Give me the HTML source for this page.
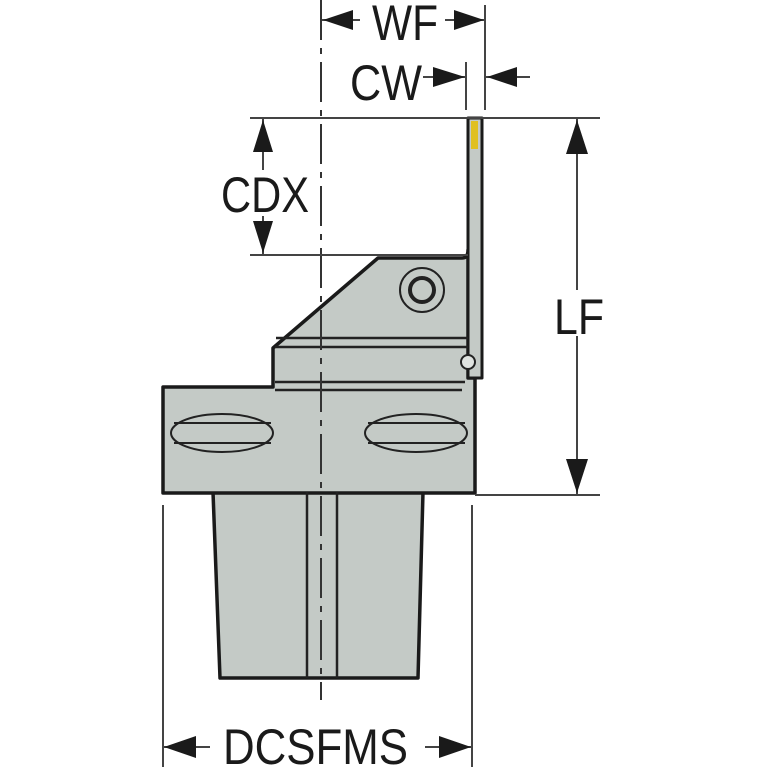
<!DOCTYPE html>
<html><head><style>html,body{margin:0;padding:0;background:#fff}svg{display:block}</style></head>
<body>
<svg width="767" height="767" viewBox="0 0 767 767" xmlns="http://www.w3.org/2000/svg">
<g fill="#c4cac6" stroke="#1a1a1a" stroke-width="3.5" stroke-linejoin="round">
<path d="M213,492 L423,492 L418,678 L220,678 Z"/>
<path d="M163,387 L273,387 L273,348 L378,258 L462,258 Q468,258 468,250 L468,378 L475,378 L475,493 L163,493 Z"/>
<path d="M468,118 L482,118 L482,378 L468,378 Z" stroke-width="3"/>
</g>
<g stroke="#222" fill="none">
<line x1="307" y1="492" x2="307" y2="678" stroke-width="2.5"/>
<line x1="337" y1="492" x2="337" y2="678" stroke-width="2.5"/>
<line x1="276" y1="338" x2="468" y2="338" stroke-width="2.5"/>
<line x1="275" y1="347" x2="468" y2="347" stroke-width="2.5"/>
<line x1="275" y1="382" x2="465" y2="382" stroke-width="2.5"/>
<line x1="275" y1="390" x2="462" y2="390" stroke-width="2.5"/>
<circle cx="422" cy="290" r="22" stroke-width="2"/>
<circle cx="422" cy="290" r="12" stroke-width="4"/>
<circle cx="468" cy="362" r="7" fill="#dfe3e0" stroke-width="2"/>
<ellipse cx="222" cy="433" rx="51" ry="19" stroke-width="2"/>
<line x1="174" y1="423" x2="271" y2="423" stroke-width="2"/>
<line x1="174" y1="443" x2="271" y2="443" stroke-width="2"/>
<ellipse cx="416" cy="433" rx="51" ry="19" stroke-width="2"/>
<line x1="368" y1="423" x2="465" y2="423" stroke-width="2"/>
<line x1="368" y1="443" x2="465" y2="443" stroke-width="2"/>
</g>
<rect x="471" y="121" width="7" height="28" fill="#e0c020"/>
<line x1="321" y1="0" x2="321" y2="700" stroke="#333" stroke-width="2" stroke-dasharray="40,8,6,8"/>
<g stroke="#444" stroke-width="2" fill="none">
<line x1="250" y1="118" x2="600" y2="118"/>
<line x1="250" y1="255" x2="468" y2="255"/>
<line x1="475" y1="495" x2="600" y2="495"/>
<line x1="485" y1="5" x2="485" y2="110"/>
<line x1="466" y1="62" x2="466" y2="110"/>
<line x1="163" y1="505" x2="163" y2="767"/>
<line x1="472" y1="505" x2="472" y2="767"/>
<line x1="577" y1="118" x2="577" y2="495"/>
<line x1="263" y1="118" x2="263" y2="255"/>
<line x1="322" y1="20" x2="360" y2="20"/>
<line x1="445" y1="20" x2="485" y2="20"/>
<line x1="423" y1="77" x2="466" y2="77"/>
<line x1="485" y1="77" x2="530" y2="77"/>
<line x1="163" y1="747" x2="210" y2="747"/>
<line x1="425" y1="747" x2="472" y2="747"/>
</g>
<g fill="#1a1a1a">
<polygon points="323,20 353,10 353,30"/>
<polygon points="484,20 454,10 454,30"/>
<polygon points="465,77 433,67 433,87"/>
<polygon points="487,77 517,67 517,87"/>
<polygon points="164,747 196,736 196,758"/>
<polygon points="471,747 439,736 439,758"/>
<polygon points="263,120 253,152 273,152"/>
<polygon points="263,253 253,221 273,221"/>
<polygon points="577,120 566,154 588,154"/>
<polygon points="577,493 566,459 588,459"/>
</g>
<g font-family="Liberation Sans, sans-serif" fill="#1a1a1a" font-size="50">
<rect x="228" y="170" width="80" height="46" fill="#fff"/>
<rect x="545" y="290" width="64" height="46" fill="#fff"/>
<text x="372" y="40" textLength="66" lengthAdjust="spacingAndGlyphs">WF</text>
<text x="350" y="100" textLength="72" lengthAdjust="spacingAndGlyphs">CW</text>
<text x="221" y="212" textLength="88" lengthAdjust="spacingAndGlyphs">CDX</text>
<text x="554" y="334" textLength="50" lengthAdjust="spacingAndGlyphs">LF</text>
<text x="223" y="764" textLength="185" lengthAdjust="spacingAndGlyphs">DCSFMS</text>
</g>
</svg>
</body></html>
